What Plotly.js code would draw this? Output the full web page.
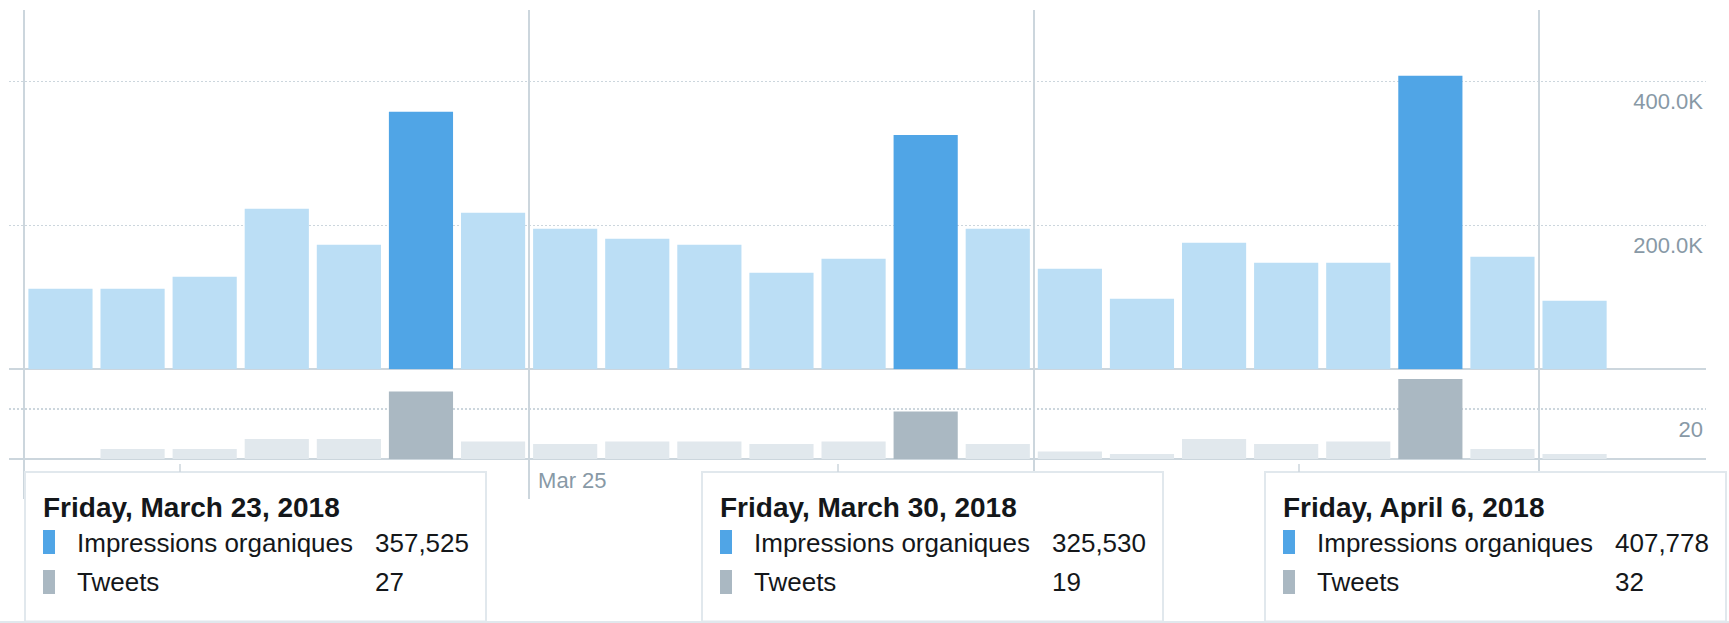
<!DOCTYPE html>
<html><head><meta charset="utf-8">
<script src="https://cdn.plot.ly/plotly-3.0.1.min.js"></script>
<style>html,body{margin:0;padding:0;background:#fff}#chart{width:1729px;height:623px}</style>
</head><body><div id="chart"></div>
<script>
// ---- data ----
const dates = ['2018-03-18','2018-03-19','2018-03-20','2018-03-21','2018-03-22','2018-03-23','2018-03-24',
               '2018-03-25','2018-03-26','2018-03-27','2018-03-28','2018-03-29','2018-03-30','2018-03-31',
               '2018-04-01','2018-04-02','2018-04-03','2018-04-04','2018-04-05','2018-04-06','2018-04-07','2018-04-08'];
const impressions = [112000,112000,128600,223000,173000,357525,217500,
                     195300,181400,173000,134200,153600,325530,195300,
                     139700,98000,175800,148000,148000,407778,156400,95300];
const tweets = [0,4,4,8,8,27,7,
                6,7,7,6,7,19,6,
                3,2,8,6,7,32,4,2];
const highlightDates = ['2018-03-23','2018-03-30','2018-04-06'];
const seriesNames = ['Impressions organiques','Tweets'];
const impTickVals = [200000,400000];
const impTickText = ['200.0K','400.0K'];
const twTickVals = [20];
const twTickText = ['20'];

// ---- styling ----
const FONT = 'Liberation Sans, Arial, Helvetica, sans-serif';
const C = {impLight:'#BBDEF5', impDark:'#50A5E6', twLight:'#E1E8ED', twDark:'#AAB8C2',
           grid:'#CCD6DD', tick:'#8899A6', text:'#14171A', border:'#E1E8ED'};
const W=1729,H=623,ML=9,MR=23,MT=10,MB=164;
const PW=W-ML-MR, PH=H-MT-MB;
const px = x => (x-ML)/PW;
const py = y => (H-MB-y)/PH;
const split = py(369.3);

const isHi = dates.map(d => highlightDates.includes(d));
const impColors = isHi.map(h => h ? C.impDark : C.impLight);
const twColors = isHi.map(h => h ? C.twDark : C.twLight);
const DAY = 86400000;

const traces = [
  {type:'bar', name:seriesNames[0], x:dates, y:impressions, xperiod:DAY, xperiodalignment:'middle',
   marker:{color:impColors}, xaxis:'x', yaxis:'y', hoverinfo:'skip'},
  {type:'bar', name:seriesNames[1], x:dates, y:tweets, xperiod:DAY, xperiodalignment:'middle',
   marker:{color:twColors}, xaxis:'x', yaxis:'y2', hoverinfo:'skip'}
];

function fmtDate(d){
  return new Date(d+'T00:00:00Z').toLocaleDateString('en-US',
    {weekday:'long',year:'numeric',month:'long',day:'numeric',timeZone:'UTC'});
}

const shapes = [], annotations = [];
const boxLefts = [25, 702, 1265], BOXW = 461;
highlightDates.forEach((d,k) => {
  const i = dates.indexOf(d), L = boxLefts[k];
  shapes.push({type:'rect', xref:'paper', yref:'paper', layer:'above',
    x0:px(L), x1:px(L+BOXW), y0:py(621.5), y1:py(472), fillcolor:'#FFFFFF', line:{color:C.border, width:2}});
  shapes.push({type:'rect', xref:'paper', yref:'paper', layer:'above',
    x0:px(L+18), x1:px(L+30), y0:py(554), y1:py(530), fillcolor:C.impDark, line:{width:0}});
  shapes.push({type:'rect', xref:'paper', yref:'paper', layer:'above',
    x0:px(L+18), x1:px(L+30), y0:py(594), y1:py(570), fillcolor:C.twDark, line:{width:0}});
  const base = {xref:'paper', yref:'paper', xanchor:'left', yanchor:'middle', showarrow:false};
  annotations.push(Object.assign({}, base, {x:px(L+16), y:py(507), text:'<b>'+fmtDate(d)+'</b>',
    font:{family:FONT, size:28, color:C.text}}));
  annotations.push(Object.assign({}, base, {x:px(L+50), y:py(543), text:seriesNames[0],
    font:{family:FONT, size:26, color:C.text}}));
  annotations.push(Object.assign({}, base, {x:px(L+348), y:py(543), text:impressions[i].toLocaleString('en-US'),
    font:{family:FONT, size:26, color:C.text}}));
  annotations.push(Object.assign({}, base, {x:px(L+50), y:py(582), text:seriesNames[1],
    font:{family:FONT, size:26, color:C.text}}));
  annotations.push(Object.assign({}, base, {x:px(L+348), y:py(582), text:String(tweets[i]),
    font:{family:FONT, size:26, color:C.text}}));
});
[180, 838, 1299].forEach(x => shapes.push({type:'line', xref:'paper', yref:'paper', layer:'above',
  x0:px(x), x1:px(x), y0:py(464), y1:py(472), line:{color:C.grid, width:1.5}}));
shapes.push({type:'line', xref:'paper', yref:'paper', layer:'above',
  x0:px(0), x1:px(W), y0:py(622), y1:py(622), line:{color:C.border, width:2}});

const yCommon = {side:'right', ticks:'', ticklabelposition:'inside bottom', ticklabelshift:5,
  showgrid:true, gridcolor:C.grid, gridwidth:1.5, griddash:'2px,2px',
  zeroline:true, zerolinecolor:C.grid, zerolinewidth:2, showline:false, fixedrange:true,
  tickfont:{family:FONT, size:22, color:C.tick}};

const layout = {
  width:W, height:H, margin:{l:ML, r:MR, t:MT, b:MB},
  paper_bgcolor:'#FFFFFF', plot_bgcolor:'#FFFFFF', showlegend:false, bargap:0.11,
  font:{family:FONT},
  xaxis:{type:'date', anchor:'y2', range:['2018-03-17 18:52','2018-04-10 07:45'],
    tick0:'2018-03-18', dtick:7*DAY, tickformat:'%b %-d',
    showgrid:true, gridcolor:C.grid, gridwidth:2, zeroline:false, showline:false,
    ticks:'outside', ticklen:39, tickwidth:2, tickcolor:C.grid,
    ticklabelposition:'outside right', ticklabelshift:8, ticklabelstandoff:2,
    tickfont:{family:FONT, size:22, color:C.tick}},
  yaxis:Object.assign({}, yCommon, {domain:[split,1], range:[0,499000], tickvals:impTickVals, ticktext:impTickText}),
  yaxis2:Object.assign({}, yCommon, {domain:[0,split], range:[0,35.9], tickvals:twTickVals, ticktext:twTickText}),
  shapes:shapes, annotations:annotations
};
Plotly.newPlot('chart', traces, layout, {displayModeBar:false, staticPlot:true});
</script></body></html>
